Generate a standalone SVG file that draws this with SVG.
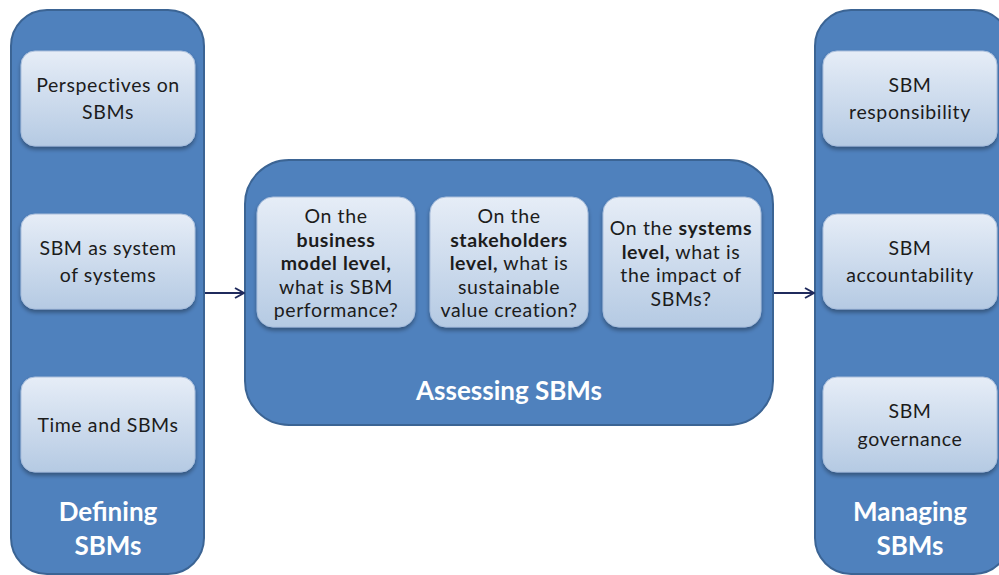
<svg xmlns="http://www.w3.org/2000/svg" width="999" height="575" viewBox="0 0 999 575">
  <defs>
    <linearGradient id="boxFill" x1="0" y1="0" x2="0" y2="1">
      <stop offset="0" stop-color="#e6edf7"/>
      <stop offset="1" stop-color="#b5cae3"/>
    </linearGradient>
    <filter id="shadow" x="-10%" y="-10%" width="120%" height="130%">
      <feGaussianBlur in="SourceAlpha" stdDeviation="2"/>
      <feOffset dx="0" dy="3" result="b"/>
      <feComponentTransfer><feFuncA type="linear" slope="0.35"/></feComponentTransfer>
      <feMerge><feMergeNode/><feMergeNode in="SourceGraphic"/></feMerge>
    </filter>
    <marker id="arrow" viewBox="0 0 12 12" refX="11" refY="6" markerWidth="12" markerHeight="12" markerUnits="userSpaceOnUse" orient="auto">
      <path d="M2,1 L11,6 L2,11" fill="none" stroke="#1f2a5c" stroke-width="2"/>
    </marker>
  </defs>
  <style>
    .panel { fill: #4f81bd; stroke: #3b6494; stroke-width: 2; }
    .box { fill: url(#boxFill); stroke: #a9bedb; stroke-width: 1; filter: url(#shadow); }
    .t { font-family: Lato, "Open Sans", sans-serif; font-size: 19.5px; letter-spacing: 0.6px; fill: #1c1c1c; text-anchor: middle; }
    .b { font-weight: bold; }
    .title { font-family: Lato, "Open Sans", sans-serif; font-size: 26px; font-weight: bold; fill: #ffffff; text-anchor: middle; }
    .conn { stroke: #1f2a5c; stroke-width: 2; fill: none; }
  </style>
  <rect width="999" height="575" fill="#ffffff"/>

  <!-- Defining column -->
  <g id="defining">
    <rect class="panel" x="11" y="10" width="193" height="564" rx="36"/>
    <text class="title" x="108" y="521">Defining</text>
    <text class="title" x="108" y="555">SBMs</text>
  </g>
  <g id="perspectives">
    <rect class="box" x="21" y="51" width="174" height="95" rx="14"/>
    <text class="t" x="108" y="92">Perspectives on</text>
    <text class="t" x="108" y="119">SBMs</text>
  </g>
  <g id="system-of-systems">
    <rect class="box" x="21" y="214" width="174" height="95" rx="14"/>
    <text class="t" x="108" y="255">SBM as system</text>
    <text class="t" x="108" y="282">of systems</text>
  </g>
  <g id="time">
    <rect class="box" x="21" y="377" width="174" height="95" rx="14"/>
    <text class="t" x="108" y="432">Time and SBMs</text>
  </g>

  <!-- Assessing panel -->
  <g id="assessing">
    <rect class="panel" x="245" y="160" width="528" height="265" rx="44"/>
    <text class="title" x="509" y="400">Assessing SBMs</text>
  </g>
  <g id="business-model-level">
    <rect class="box" x="257" y="197" width="158" height="130" rx="16"/>
    <text class="t" x="336" y="223">On the</text>
    <text class="t b" x="336" y="246.5">business</text>
    <text class="t b" x="336" y="270">model level,</text>
    <text class="t" x="336" y="293.5">what is SBM</text>
    <text class="t" x="336" y="317">performance?</text>
  </g>
  <g id="stakeholders-level">
    <rect class="box" x="430" y="197" width="158" height="130" rx="16"/>
    <text class="t" x="509" y="223">On the</text>
    <text class="t b" x="509" y="246.5">stakeholders</text>
    <text class="t" x="509" y="270"><tspan class="b">level,</tspan> what is</text>
    <text class="t" x="509" y="293.5">sustainable</text>
    <text class="t" x="509" y="317">value creation?</text>
  </g>
  <g id="systems-level">
    <rect class="box" x="603" y="197" width="158" height="130" rx="16"/>
    <text class="t" x="681" y="235">On the <tspan class="b">systems</tspan></text>
    <text class="t" x="681" y="258.5"><tspan class="b">level,</tspan> what is</text>
    <text class="t" x="681" y="282">the impact of</text>
    <text class="t" x="681" y="305.5">SBMs?</text>
  </g>

  <!-- Managing column -->
  <g id="managing">
    <rect class="panel" x="815" y="10" width="195" height="564" rx="36"/>
    <text class="title" x="910" y="521">Managing</text>
    <text class="title" x="910" y="555">SBMs</text>
  </g>
  <g id="responsibility">
    <rect class="box" x="823" y="51" width="174" height="95" rx="14"/>
    <text class="t" x="910" y="92">SBM</text>
    <text class="t" x="910" y="119">responsibility</text>
  </g>
  <g id="accountability">
    <rect class="box" x="823" y="214" width="174" height="95" rx="14"/>
    <text class="t" x="910" y="255">SBM</text>
    <text class="t" x="910" y="282">accountability</text>
  </g>
  <g id="governance">
    <rect class="box" x="823" y="377" width="174" height="95" rx="14"/>
    <text class="t" x="910" y="418">SBM</text>
    <text class="t" x="910" y="446">governance</text>
  </g>

  <!-- Connectors -->
  <g id="connectors">
    <line class="conn" x1="205" y1="293" x2="244" y2="293" marker-end="url(#arrow)"/>
    <line class="conn" x1="774" y1="293" x2="814" y2="293" marker-end="url(#arrow)"/>
  </g>
</svg>
